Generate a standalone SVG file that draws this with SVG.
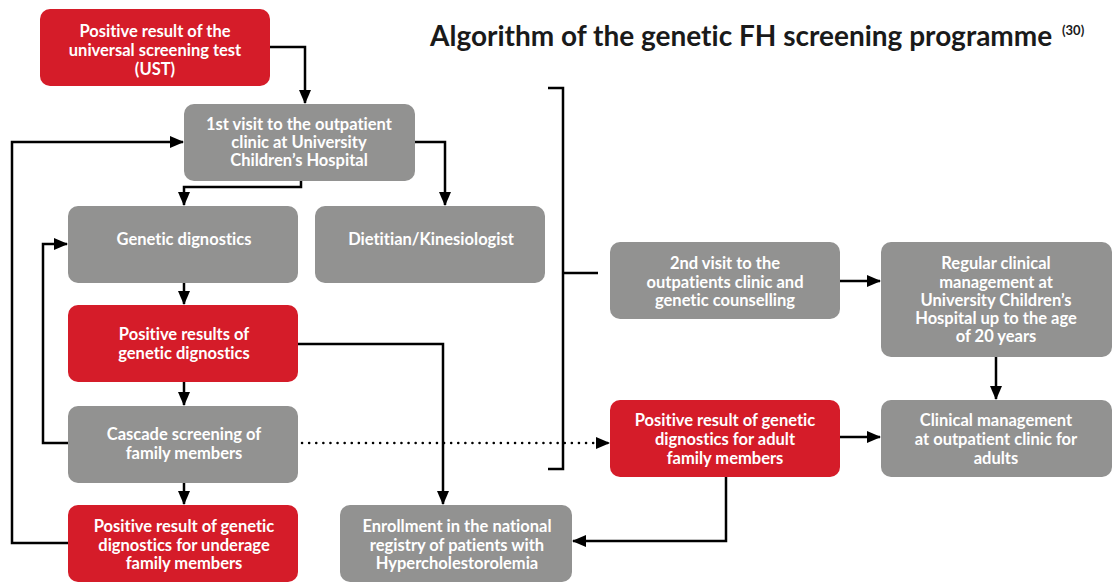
<svg xmlns="http://www.w3.org/2000/svg" width="1112" height="583" viewBox="0 0 1112 583">
<style>
.red{fill:#D51C29}
.gray{fill:#929291}
.t{font-family:Lato,"Open Sans",sans-serif;font-weight:bold;font-size:16.5px;fill:#fff;text-anchor:middle;font-variant-ligatures:none}
.title{font-family:Lato,"Open Sans",sans-serif;font-weight:bold;font-size:28px;fill:#1a1a1a;font-variant-ligatures:none}
.sup{font-family:Lato,"Open Sans",sans-serif;font-weight:bold;font-size:13px;fill:#1a1a1a}
.c{fill:none;stroke:#000;stroke-width:2.5}
</style>
<defs>
<marker id="ah" markerUnits="userSpaceOnUse" markerWidth="14" markerHeight="12" refX="13" refY="6" orient="auto">
<path d="M0,0 L14,6 L0,12 Z" fill="#000"/>
</marker>
</defs>
<rect width="1112" height="583" fill="#fff"/>
<text class="title" x="430" y="46">Algorithm of the genetic FH screening programme</text>
<text class="sup" x="1062" y="35">(30)</text>

<g id="connectors">
<path class="c" d="M270,47 H305 V103" marker-end="url(#ah)"/>
<path class="c" d="M301,181 V187 H184 V205" marker-end="url(#ah)"/>
<path class="c" d="M415,142 H445 V205" marker-end="url(#ah)"/>
<path class="c" d="M184,283 V304" marker-end="url(#ah)"/>
<path class="c" d="M184,382 V405" marker-end="url(#ah)"/>
<path class="c" d="M184,483 V504" marker-end="url(#ah)"/>
<path class="c" d="M68,443 H43 V244 H67" marker-end="url(#ah)"/>
<path class="c" d="M68,543 H12 V142 H183" marker-end="url(#ah)"/>
<path class="c" d="M298,344 H443 V504" marker-end="url(#ah)"/>
<path class="c" d="M302,443 H609" stroke-dasharray="0.1,7" stroke-linecap="round" marker-end="url(#ah)"/>
<path class="c" d="M726,477 V541 H573" marker-end="url(#ah)"/>
<path class="c" d="M840,281 H880" marker-end="url(#ah)"/>
<path class="c" d="M996,357 V399" marker-end="url(#ah)"/>
<path class="c" d="M840,437 H880" marker-end="url(#ah)"/>
<path class="c" d="M548,88 H563 V469 H548 M563,273 H598"/>
</g>

<g id="n-ust"><rect class="red" x="40" y="9" width="230" height="77" rx="10"/>
<text class="t" x="155" y="37">Positive result of the</text><text class="t" x="155" y="56">universal screening test</text><text class="t" x="155" y="75">(UST)</text></g>

<g id="n-visit1"><rect class="gray" x="184" y="104" width="231" height="77" rx="10"/>
<text class="t" x="299" y="130">1st visit to the outpatient</text><text class="t" x="299" y="148">clinic at University</text><text class="t" x="299" y="166">Children’s Hospital</text></g>

<g id="n-gen"><rect class="gray" x="68" y="206" width="230" height="77" rx="10"/>
<text class="t" x="184" y="245">Genetic dignostics</text></g>

<g id="n-diet"><rect class="gray" x="315" y="206" width="230" height="77" rx="10"/>
<text class="t" x="431" y="245">Dietitian/Kinesiologist</text></g>

<g id="n-posgen"><rect class="red" x="68" y="305" width="230" height="77" rx="10"/>
<text class="t" x="184" y="340">Positive results of</text><text class="t" x="184" y="359">genetic dignostics</text></g>

<g id="n-cascade"><rect class="gray" x="68" y="406" width="230" height="77" rx="10"/>
<text class="t" x="184" y="440">Cascade screening of</text><text class="t" x="184" y="459">family members</text></g>

<g id="n-underage"><rect class="red" x="68" y="505" width="230" height="77" rx="10"/>
<text class="t" x="184" y="532">Positive result of genetic</text><text class="t" x="184" y="551">dignostics for underage</text><text class="t" x="184" y="569">family members</text></g>

<g id="n-registry"><rect class="gray" x="340" y="505" width="232" height="77" rx="10"/>
<text class="t" x="457" y="532">Enrollment in the national</text><text class="t" x="457" y="551">registry of patients with</text><text class="t" x="457" y="569">Hypercholestorolemia</text></g>

<g id="n-visit2"><rect class="gray" x="610" y="242" width="230" height="77" rx="10"/>
<text class="t" x="725" y="269">2nd visit to the</text><text class="t" x="725" y="288">outpatients clinic and</text><text class="t" x="725" y="306">genetic counselling</text></g>

<g id="n-regular"><rect class="gray" x="881" y="242" width="231" height="115" rx="10"/>
<text class="t" x="996" y="269">Regular clinical</text><text class="t" x="996" y="288">management at</text><text class="t" x="996" y="306">University Children’s</text><text class="t" x="996" y="324">Hospital up to the age</text><text class="t" x="996" y="342">of 20 years</text></g>

<g id="n-adult"><rect class="red" x="610" y="400" width="230" height="77" rx="10"/>
<text class="t" x="725" y="426">Positive result of genetic</text><text class="t" x="725" y="445">dignostics for adult</text><text class="t" x="725" y="464">family members</text></g>

<g id="n-adultclinic"><rect class="gray" x="881" y="400" width="231" height="77" rx="10"/>
<text class="t" x="996" y="426">Clinical management</text><text class="t" x="996" y="445">at outpatient clinic for</text><text class="t" x="996" y="464">adults</text></g>
</svg>
